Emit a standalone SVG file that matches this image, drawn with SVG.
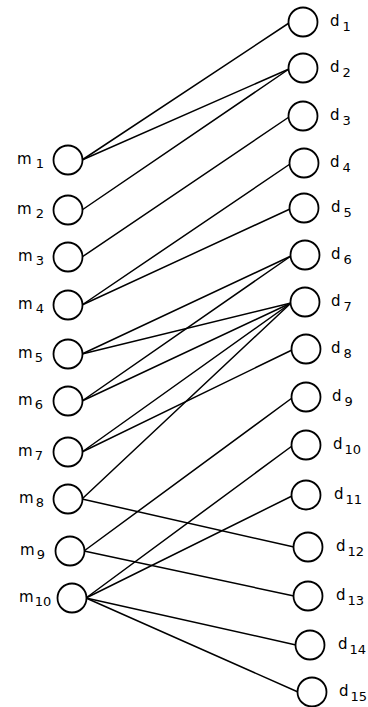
<svg xmlns="http://www.w3.org/2000/svg" width="368" height="707" viewBox="0 0 368 707">
<style>
.n{fill:#fff;stroke:#000;stroke-width:1.8}
.e line{stroke:#000;stroke-width:1.5;stroke-linecap:round}
text{font-family:"DejaVu Sans","Liberation Sans",sans-serif;font-size:15px;fill:#000}
.s{font-size:13px}
</style>
<rect width="368" height="707" fill="#fff"/>
<g id="connectors" class="e">
<line x1="82" y1="160" x2="289" y2="23"/>
<line x1="82" y1="160" x2="289" y2="69"/>
<line x1="82" y1="210" x2="289" y2="69"/>
<line x1="82" y1="257" x2="289" y2="117"/>
<line x1="82" y1="305" x2="290" y2="164"/>
<line x1="82" y1="305" x2="290" y2="209"/>
<line x1="82" y1="354" x2="291" y2="256"/>
<line x1="82" y1="354" x2="291" y2="303"/>
<line x1="82" y1="401" x2="291" y2="256"/>
<line x1="82" y1="401" x2="291" y2="303"/>
<line x1="82" y1="452" x2="291" y2="303"/>
<line x1="82" y1="452" x2="292" y2="350"/>
<line x1="82" y1="499" x2="291" y2="303"/>
<line x1="82" y1="499" x2="294" y2="547"/>
<line x1="84" y1="551" x2="292" y2="398"/>
<line x1="84" y1="551" x2="294" y2="596"/>
<line x1="86" y1="598" x2="292" y2="446"/>
<line x1="86" y1="598" x2="292" y2="496"/>
<line x1="86" y1="598" x2="296" y2="645"/>
<line x1="86" y1="598" x2="298" y2="692"/>
</g>
<g id="m1"><circle class="n" cx="68" cy="160" r="14.5"/><text x="17" y="164">m<tspan class="s" dx="4" dy="4">1</tspan></text></g>
<g id="m2"><circle class="n" cx="68" cy="210" r="14.5"/><text x="17" y="214">m<tspan class="s" dx="4" dy="4">2</tspan></text></g>
<g id="m3"><circle class="n" cx="68" cy="257" r="14.5"/><text x="18" y="261">m<tspan class="s" dx="3" dy="4">3</tspan></text></g>
<g id="m4"><circle class="n" cx="68" cy="305" r="14.5"/><text x="18" y="309">m<tspan class="s" dx="3" dy="4">4</tspan></text></g>
<g id="m5"><circle class="n" cx="68" cy="354" r="14.5"/><text x="18" y="358">m<tspan class="s" dx="2" dy="4">5</tspan></text></g>
<g id="m6"><circle class="n" cx="68" cy="401" r="14.5"/><text x="18" y="405">m<tspan class="s" dx="2" dy="4">6</tspan></text></g>
<g id="m7"><circle class="n" cx="68" cy="452" r="14.5"/><text x="18" y="456">m<tspan class="s" dx="2" dy="4">7</tspan></text></g>
<g id="m8"><circle class="n" cx="68" cy="499" r="14.5"/><text x="19" y="503">m<tspan class="s" dx="2" dy="4">8</tspan></text></g>
<g id="m9"><circle class="n" cx="70" cy="551" r="14.5"/><text x="20" y="555">m<tspan class="s" dx="2" dy="4">9</tspan></text></g>
<g id="m10"><circle class="n" cx="72" cy="598" r="14.5"/><text x="19" y="602">m<tspan class="s" dx="1" dy="4">10</tspan></text></g>
<g id="d1"><circle class="n" cx="303" cy="22" r="14.5"/><text x="330" y="26">d<tspan class="s" dx="3" dy="5">1</tspan></text></g>
<g id="d2"><circle class="n" cx="303" cy="68" r="14.5"/><text x="330" y="72">d<tspan class="s" dx="3" dy="5">2</tspan></text></g>
<g id="d3"><circle class="n" cx="303" cy="116" r="14.5"/><text x="330" y="120">d<tspan class="s" dx="3" dy="5">3</tspan></text></g>
<g id="d4"><circle class="n" cx="304" cy="163" r="14.5"/><text x="330" y="167">d<tspan class="s" dx="3" dy="5">4</tspan></text></g>
<g id="d5"><circle class="n" cx="304" cy="208" r="14.5"/><text x="331" y="212">d<tspan class="s" dx="3" dy="5">5</tspan></text></g>
<g id="d6"><circle class="n" cx="305" cy="255" r="14.5"/><text x="331" y="259">d<tspan class="s" dx="3" dy="5">6</tspan></text></g>
<g id="d7"><circle class="n" cx="305" cy="302" r="14.5"/><text x="331" y="306">d<tspan class="s" dx="3" dy="5">7</tspan></text></g>
<g id="d8"><circle class="n" cx="306" cy="349" r="14.5"/><text x="331" y="353">d<tspan class="s" dx="3" dy="5">8</tspan></text></g>
<g id="d9"><circle class="n" cx="306" cy="397" r="14.5"/><text x="332" y="401">d<tspan class="s" dx="3" dy="5">9</tspan></text></g>
<g id="d10"><circle class="n" cx="306" cy="445" r="14.5"/><text x="333" y="449">d<tspan class="s" dx="2" dy="5">10</tspan></text></g>
<g id="d11"><circle class="n" cx="306" cy="495" r="14.5"/><text x="334" y="499">d<tspan class="s" dx="2" dy="5">11</tspan></text></g>
<g id="d12"><circle class="n" cx="308" cy="547" r="14.5"/><text x="336" y="551">d<tspan class="s" dx="2" dy="5">12</tspan></text></g>
<g id="d13"><circle class="n" cx="308" cy="596" r="14.5"/><text x="336" y="600">d<tspan class="s" dx="2" dy="5">13</tspan></text></g>
<g id="d14"><circle class="n" cx="310" cy="645" r="14.5"/><text x="338" y="649">d<tspan class="s" dx="2" dy="5">14</tspan></text></g>
<g id="d15"><circle class="n" cx="312" cy="692" r="14.5"/><text x="339" y="696">d<tspan class="s" dx="2" dy="5">15</tspan></text></g>
</svg>
